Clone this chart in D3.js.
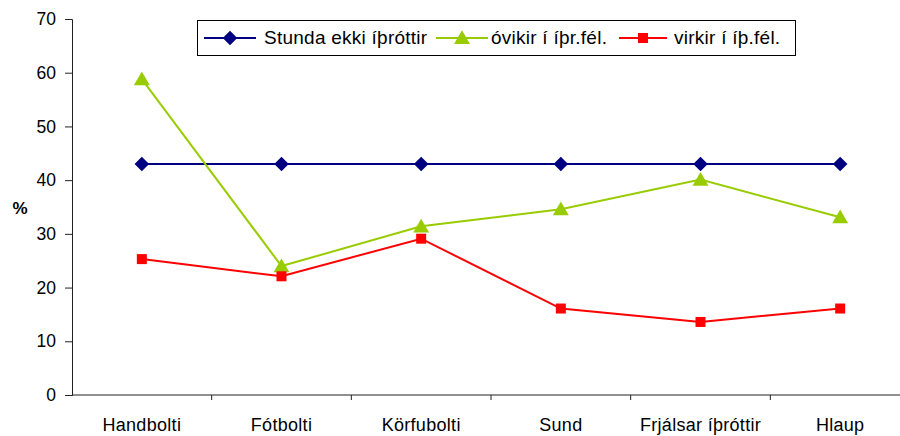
<!DOCTYPE html>
<html>
<head>
<meta charset="utf-8">
<script src="https://cdn.jsdelivr.net/npm/d3@7"></script>
<style>
  body { margin: 0; background: #fff; }
  text { font-family: "Liberation Sans", Arial, sans-serif; }
</style>
</head>
<body>
<div id="chart"></div>
<script>
// data
var categories = ["Handbolti", "Fótbolti", "Körfubolti", "Sund", "Frjálsar íþróttir", "Hlaup"]
var seriesNames = ["Stunda ekki íþróttir", "óvikir í íþr.fél.", "virkir í íþ.fél."]
var stunda = [43, 43, 43, 43, 43, 43]
var ovirkir = [58.8, 24.0, 31.4, 34.6, 40.1, 33.1]
var virkir = [25.3, 22.1, 29.1, 16.1, 13.6, 16.1]
var yTicks = [0, 10, 20, 30, 40, 50, 60, 70]

var width = 900
    height = 436

var colors = ["#000080", "#99CC00", "#FF0000"]
// square diamond like the excel marker
var symbols = [d3.symbolDiamond2 || d3.symbolDiamond, d3.symbolTriangle, d3.symbolSquare]
var symSizes = [135, 110, 100]

var svg = d3.select("#chart")
  .append("svg")
    .attr("width", width)
    .attr("height", height)

var x = d3.scaleBand()
  .domain(categories)
  .range([72, 910])

var y = d3.scaleLinear()
  .domain([0, 70])
  .range([395, 19])

// y axis
var yAxis = svg.append("g")
  .attr("transform", "translate(72,0)")
  .call(d3.axisLeft(y).tickValues(yTicks).tickSize(7).tickPadding(9))
yAxis.select(".domain").attr("stroke", "#222")
yAxis.selectAll(".tick line").attr("stroke", "#222")
yAxis.selectAll("text")
  .style("font-size", "17.5px")
  .style("font-family", "Liberation Sans, Arial, sans-serif")
  .attr("fill", "#000")

// x axis, ticks between the categories
var xAxis = svg.append("g")
  .attr("transform", "translate(0,395)")
xAxis.append("line")
  .attr("x1", 72).attr("x2", 910)
  .attr("stroke", "#222")
xAxis.selectAll("line.sep")
  .data(categories.slice(1))
  .enter()
  .append("line")
    .attr("class", "sep")
    .attr("x1", function(d){ return x(d) })
    .attr("x2", function(d){ return x(d) })
    .attr("y1", 0)
    .attr("y2", 5)
    .attr("stroke", "#222")
xAxis.selectAll("text")
  .data(categories)
  .enter()
  .append("text")
    .attr("x", function(d){ return x(d) + x.bandwidth() / 2 })
    .attr("y", 36)
    .attr("text-anchor", "middle")
    .style("font-size", "18px")
    .style("letter-spacing", "0.3px")
    .text(function(d){ return d })

// y axis title
svg.append("text")
  .attr("x", 20)
  .attr("y", 214)
  .attr("text-anchor", "middle")
  .style("font-size", "17px")
  .style("font-weight", "bold")
  .text("%")

// lines + markers
var allSeries = [stunda, ovirkir, virkir]
var line = d3.line()
  .x(function(d, i){ return x(categories[i]) + x.bandwidth() / 2 })
  .y(function(d){ return y(d) })

allSeries.forEach(function(vals, s) {
  svg.append("path")
    .datum(vals)
    .attr("d", line)
    .attr("fill", "none")
    .attr("stroke", colors[s])
    .attr("stroke-width", 2)

  svg.selectAll("mydots" + s)
    .data(vals)
    .enter()
    .append("path")
      .attr("d", d3.symbol().type(symbols[s]).size(symSizes[s]))
      .attr("transform", function(d, i){
        var dy = s == 1 ? 1.5 : 0
        return "translate(" + (x(categories[i]) + x.bandwidth() / 2) + "," + (y(d) + dy) + ")"
      })
      .attr("fill", colors[s])
})

// legend
var legend = svg.append("g")
legend.append("rect")
  .attr("x", 197.5).attr("y", 20.5)
  .attr("width", 598).attr("height", 35)
  .attr("fill", "#fff")
  .attr("stroke", "#000")
  .attr("stroke-width", 1)

var legX = [204, 436, 619]
var legLen = [52, 52, 48]
var legTextX = [264, 491, 674]
seriesNames.forEach(function(name, s) {
  var lx = legX[s]
  legend.append("line")
    .attr("x1", lx).attr("x2", lx + legLen[s])
    .attr("y1", 38).attr("y2", 38)
    .attr("stroke", colors[s])
    .attr("stroke-width", 2)
  legend.append("path")
    .attr("d", d3.symbol().type(symbols[s]).size(symSizes[s]))
    .attr("transform", "translate(" + (lx + legLen[s] / 2) + "," + (s == 1 ? 39.5 : 38) + ")")
    .attr("fill", colors[s])
  legend.append("text")
    .attr("x", legTextX[s])
    .attr("y", 43.5)
    .style("font-size", "19px")
    .style("letter-spacing", "0.25px")
    .text(name)
})
</script>
</body>
</html>
